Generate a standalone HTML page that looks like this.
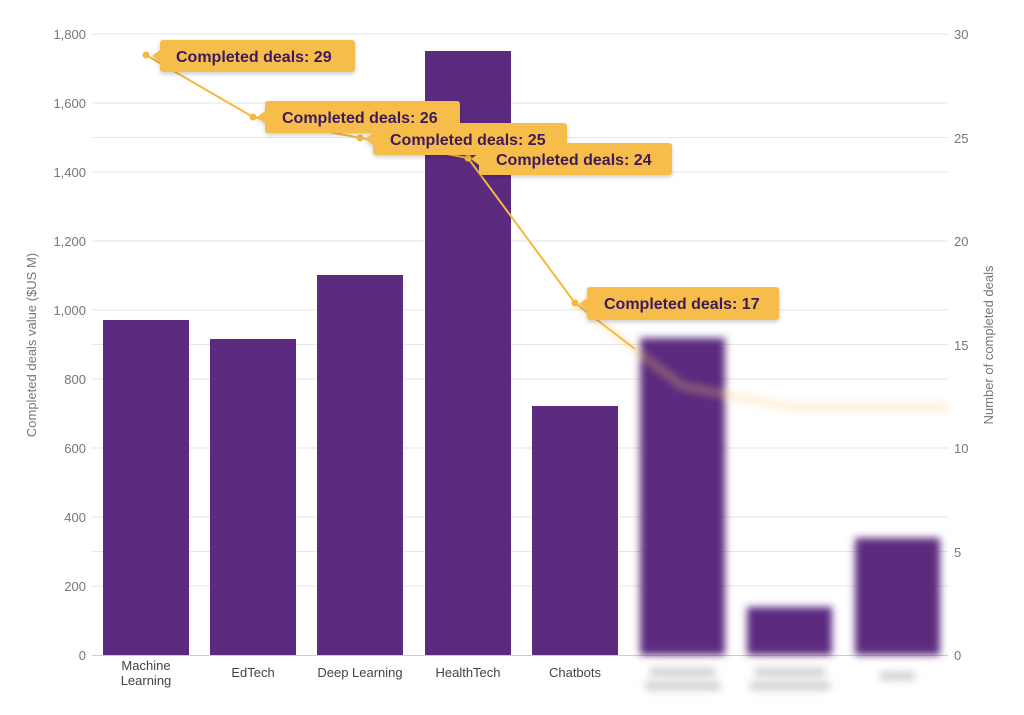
<!DOCTYPE html>
<html><head><meta charset="utf-8"><style>
body{margin:0;background:#fff;}
svg{display:block;font-family:"Liberation Sans",sans-serif;}
</style></head><body>
<svg width="1024" height="715" viewBox="0 0 1024 715">
<defs>
<filter id="b" x="-20%" y="-20%" width="140%" height="140%"><feGaussianBlur stdDeviation="4"/></filter>
<filter id="sh" x="-10%" y="-30%" width="120%" height="170%"><feDropShadow dx="0" dy="2" stdDeviation="2" flood-color="#000" flood-opacity="0.2"/></filter>
</defs>
<g stroke="#e6e6e6" stroke-width="1">
<line x1="92" x2="948" y1="34" y2="34"/><line x1="92" x2="948" y1="103" y2="103"/>
<line x1="92" x2="948" y1="137.5" y2="137.5"/><line x1="92" x2="948" y1="172" y2="172"/>
<line x1="92" x2="948" y1="241" y2="241"/><line x1="92" x2="948" y1="310" y2="310"/>
<line x1="92" x2="948" y1="344.5" y2="344.5"/><line x1="92" x2="948" y1="379" y2="379"/>
<line x1="92" x2="948" y1="448" y2="448"/><line x1="92" x2="948" y1="517" y2="517"/>
<line x1="92" x2="948" y1="551.5" y2="551.5"/><line x1="92" x2="948" y1="586" y2="586"/>
</g>
<line x1="92" x2="948" y1="655.5" y2="655.5" stroke="#ccc"/>
<g font-size="13" fill="#777" text-anchor="end">
<text x="86" y="39">1,800</text><text x="86" y="108">1,600</text><text x="86" y="177">1,400</text>
<text x="86" y="246">1,200</text><text x="86" y="315">1,000</text><text x="86" y="384">800</text>
<text x="86" y="453">600</text><text x="86" y="522">400</text><text x="86" y="591">200</text><text x="86" y="660">0</text>
</g>
<g font-size="13" fill="#777">
<text x="954" y="39">30</text><text x="954" y="143">25</text><text x="954" y="246">20</text>
<text x="954" y="350">15</text><text x="954" y="453">10</text><text x="954" y="557">5</text><text x="954" y="660">0</text>
</g>
<text transform="translate(36,345) rotate(-90)" font-size="13" fill="#777" text-anchor="middle">Completed deals value ($US M)</text>
<text transform="translate(993,345) rotate(-90)" font-size="13" fill="#777" text-anchor="middle">Number of completed deals</text>
<g fill="#5c2a7e">
<rect x="103" y="320" width="86" height="335"/>
<rect x="210" y="339" width="86" height="316"/>
<rect x="317" y="275" width="86" height="380"/>
<rect x="425" y="51" width="86" height="604"/>
<rect x="532" y="406" width="86" height="249"/>
</g>
<g font-size="13" fill="#444" text-anchor="middle">
<text x="146" y="670">Machine</text><text x="146" y="685">Learning</text>
<text x="253" y="677">EdTech</text><text x="360" y="677">Deep Learning</text>
<text x="468" y="677">HealthTech</text><text x="575" y="677">Chatbots</text>
</g>
<g filter="url(#b)">
<rect x="640" y="338" width="85" height="317" fill="#5c2a7e"/>
<rect x="747" y="607" width="85" height="48" fill="#5c2a7e"/>
<rect x="855" y="538" width="85" height="117" fill="#5c2a7e"/>
<polyline points="575,303 682,386 790,407 897,407 948,407" fill="none" stroke="#f9c66a" stroke-width="6" opacity="0.35"/>
<rect x="650" y="668" width="65" height="8" fill="#ccc"/><rect x="645" y="682" width="75" height="8" fill="#ccc"/>
<rect x="755" y="668" width="70" height="8" fill="#ccc"/><rect x="750" y="682" width="80" height="8" fill="#ccc"/>
<rect x="880" y="672" width="35" height="8" fill="#ccc"/>
</g>
<polyline points="146,55 253,117 360,138 468,158 575,303 635,349" fill="none" stroke="#f5b940" stroke-width="2"/>
<g fill="#f5b940"><circle cx="146" cy="55" r="3.5"/><circle cx="253" cy="117" r="3.5"/><circle cx="360" cy="138" r="3.5"/><circle cx="468" cy="158" r="3.5"/><circle cx="575" cy="303" r="3.5"/></g>
<g filter="url(#sh)" fill="#f7bd4b">
<path d="M163,40 H352 a3,3 0 0 1 3,3 V69 a3,3 0 0 1 -3,3 H163 a3,3 0 0 1 -3,-3 V62 L152,56 L160,50 V43 a3,3 0 0 1 3,-3Z"/>
<path d="M268,101 H457 a3,3 0 0 1 3,3 V130 a3,3 0 0 1 -3,3 H268 a3,3 0 0 1 -3,-3 V123 L257,117 L265,111 V104 a3,3 0 0 1 3,-3Z"/>
<path d="M376,123 H564 a3,3 0 0 1 3,3 V152 a3,3 0 0 1 -3,3 H376 a3,3 0 0 1 -3,-3 V145 L365,139 L373,133 V126 a3,3 0 0 1 3,-3Z"/>
<path d="M482,143 H669 a3,3 0 0 1 3,3 V172 a3,3 0 0 1 -3,3 H482 a3,3 0 0 1 -3,-3 V165 L471,159 L479,153 V146 a3,3 0 0 1 3,-3Z"/>
<path d="M590,287 H776 a3,3 0 0 1 3,3 V317 a3,3 0 0 1 -3,3 H590 a3,3 0 0 1 -3,-3 V310 L579,304 L587,298 V290 a3,3 0 0 1 3,-3Z"/>
</g>
<g font-size="16" font-weight="bold" fill="#3d1a5a">
<text x="176" y="62">Completed deals: 29</text>
<text x="282" y="123">Completed deals: 26</text>
<text x="390" y="145">Completed deals: 25</text>
<text x="496" y="165">Completed deals: 24</text>
<text x="604" y="309">Completed deals: 17</text>
</g>
</svg>
</body></html>
